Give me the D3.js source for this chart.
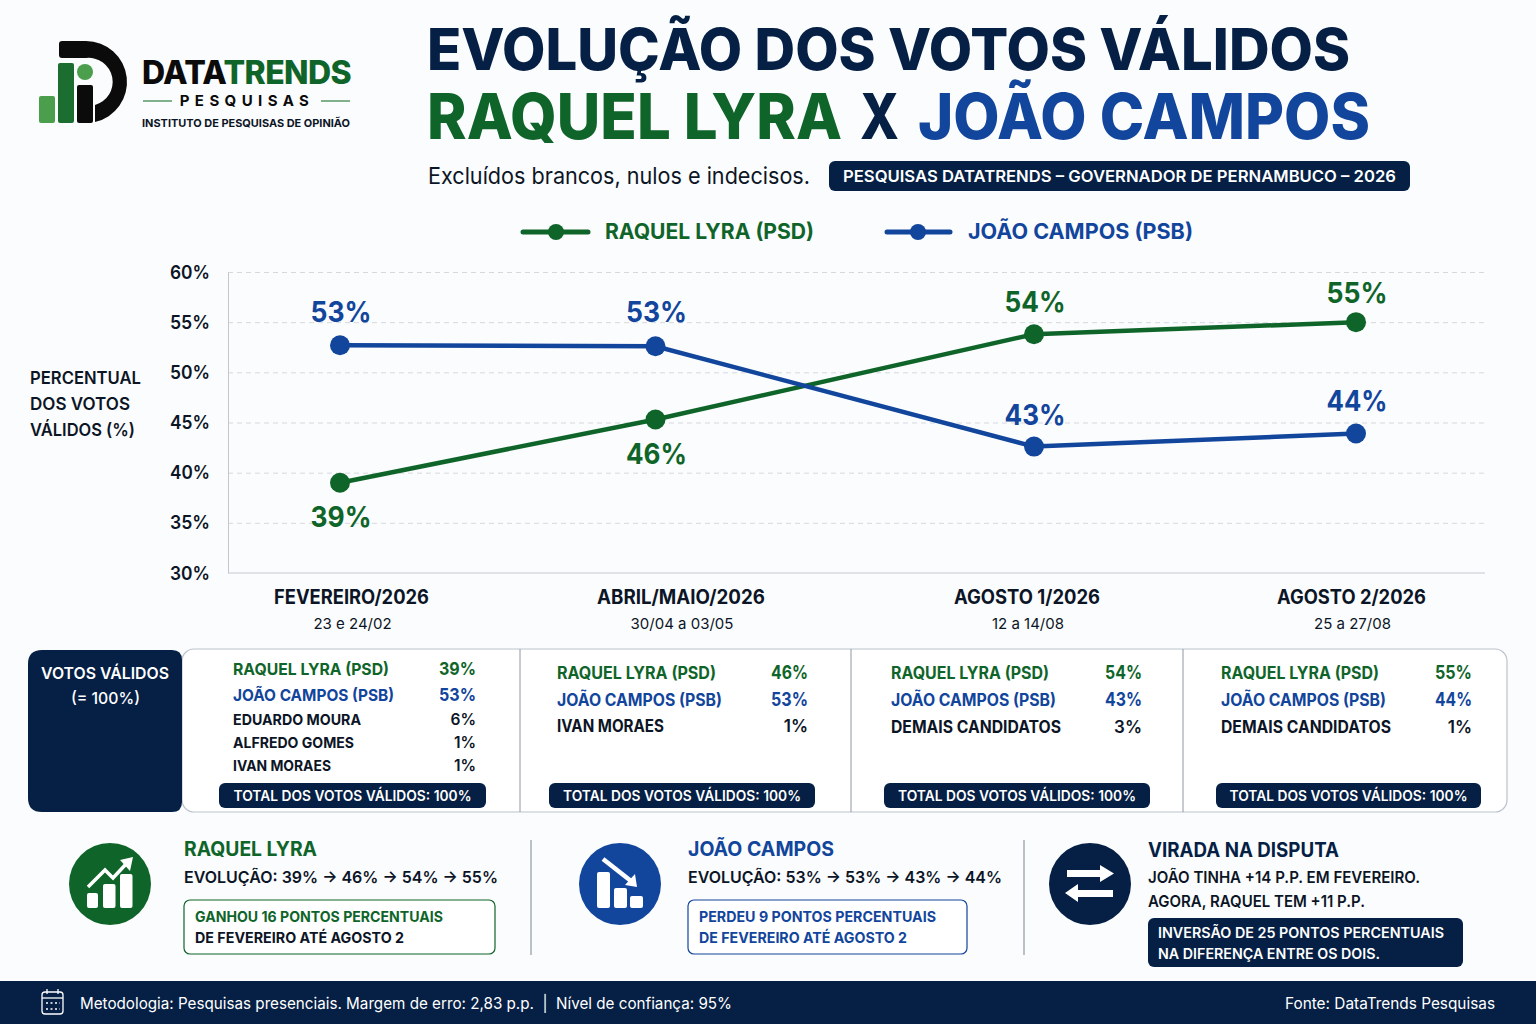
<!DOCTYPE html>
<html>
<head>
<meta charset="utf-8">
<script src="https://cdn.jsdelivr.net/npm/d3@7"></script>
<style>
  html, body { margin: 0; padding: 0; background: #fbfcfd; }
  svg { display: block; }
  text { font-family: Inter, "Noto Sans", sans-serif; white-space: pre; }
</style>
</head>
<body>
<svg width="1536" height="1024"></svg>
<script>
// dados
const periods = ['FEVEREIRO/2026', 'ABRIL/MAIO/2026', 'AGOSTO 1/2026', 'AGOSTO 2/2026'];
const periodDates = ['23 e 24/02', '30/04 a 03/05', '12 a 14/08', '25 a 27/08'];
const raquelValues = [39, 45.3, 53.8, 55];
const joaoValues = [52.7, 52.6, 42.6, 43.9];
const raquelLabels = ['39%', '46%', '54%', '55%'];
const joaoLabels = ['53%', '53%', '43%', '44%'];
const yTicks = [30, 35, 40, 45, 50, 55, 60];
const raquelName = 'RAQUEL LYRA (PSD)';
const joaoName = 'JOÃO CAMPOS (PSB)';
const table1 = [[raquelName, '39%'], [joaoName, '53%'], ['EDUARDO MOURA', '6%'], ['ALFREDO GOMES', '1%'], ['IVAN MORAES', '1%']];
const table2 = [[raquelName, '46%'], [joaoName, '53%'], ['IVAN MORAES', '1%']];
const table3 = [[raquelName, '54%'], [joaoName, '43%'], ['DEMAIS CANDIDATOS', '3%']];
const table4 = [[raquelName, '55%'], [joaoName, '44%'], ['DEMAIS CANDIDATOS', '1%']];

const navy = '#051f45', green = '#0f6529', blue = '#12459c', ink = '#0c1526';
const svg = d3.select('svg');

// w = largura medida no original, o Inter daqui sai mais largo
function txt(parent, s, x, y, size, weight, fill, anchor, w) {
  const t = parent.append('text').attr('x', x).attr('y', y).attr('font-size', size)
    .attr('font-weight', weight).attr('fill', fill).attr('text-anchor', anchor || 'start').text(s);
  if (w) t.attr('textLength', w).attr('lengthAdjust', 'spacingAndGlyphs');
  return t;
}

// logo
const logo = svg.append('g');
logo.append('path').attr('fill', '#0b0b0b')
  .attr('d', 'M62,41 H86 A41,41 0 0 1 95,122 V105 A24,24 0 0 0 86,58 H62 Q59,58 59,55 V44 Q59,41 62,41 Z');
logo.append('rect').attr('x', 39).attr('y', 96).attr('width', 16).attr('height', 27).attr('rx', 2).attr('fill', '#4a9e4c');
logo.append('rect').attr('x', 58).attr('y', 63).attr('width', 16).attr('height', 60).attr('rx', 2).attr('fill', '#1c6e30');
logo.append('rect').attr('x', 77).attr('y', 85).attr('width', 16).attr('height', 38).attr('rx', 2).attr('fill', '#0b0b0b');
logo.append('circle').attr('cx', 85).attr('cy', 72).attr('r', 8).attr('fill', '#4a9e4c');
const brand = txt(logo, 'DATA', 142, 84, 32, 800, '#0b0b0b').attr('letter-spacing', -0.6);
brand.append('tspan').attr('fill', green).text('TRENDS');
txt(logo, 'PESQUISAS', 247, 106, 15, 700, '#0b0b0b', 'middle').attr('letter-spacing', 5.4);
logo.append('line').attr('x1', 143).attr('x2', 172).attr('y1', 101).attr('y2', 101).attr('stroke', '#2f7d40').attr('stroke-width', 1.2);
logo.append('line').attr('x1', 321).attr('x2', 350).attr('y1', 101).attr('y2', 101).attr('stroke', '#2f7d40').attr('stroke-width', 1.2);
txt(logo, 'INSTITUTO DE PESQUISAS DE OPINIÃO', 142, 127, 11, 700, ink, 'start', 208);

// titulo
txt(svg, 'EVOLUÇÃO DOS VOTOS VÁLIDOS', 427, 70, 58, 800, navy, 'start', 923);
txt(svg, 'RAQUEL LYRA', 427, 139, 63, 800, green, 'start', 415);
txt(svg, 'X', 860, 139, 63, 800, navy, 'start', 39);
txt(svg, 'JOÃO CAMPOS', 918, 139, 63, 800, blue, 'start', 452);
txt(svg, 'Excluídos brancos, nulos e indecisos.', 428, 184, 23, 400, ink, 'start', 382);
svg.append('rect').attr('x', 829).attr('y', 161).attr('width', 581).attr('height', 30).attr('rx', 6).attr('fill', navy);
txt(svg, 'PESQUISAS DATATRENDS – GOVERNADOR DE PERNAMBUCO – 2026', 1119.5, 182, 16.5, 600, '#fff', 'middle', 553);

// legenda
function legendItem(x1, x2, cx, tx, color, label, w) {
  svg.append('line').attr('x1', x1).attr('x2', x2).attr('y1', 232).attr('y2', 232)
    .attr('stroke', color).attr('stroke-width', 5).attr('stroke-linecap', 'round');
  svg.append('circle').attr('cx', cx).attr('cy', 232).attr('r', 8).attr('fill', color);
  txt(svg, label, tx, 239, 21.5, 700, color, 'start', w);
}
legendItem(523, 588, 556, 605, green, raquelName, 209);
legendItem(887, 950, 918, 968, blue, joaoName, 225);

// grafico
const x = d3.scaleOrdinal().domain(periods).range([340, 655.5, 1034, 1356]);
const y = d3.scaleLinear().domain([30, 60]).range([573, 272]);

const grid = svg.append('g').attr('transform', 'translate(228,0)')
  .call(d3.axisRight(y).tickValues(yTicks.slice(1)).tickSize(1257).tickFormat(''));
grid.select('.domain').remove();
grid.selectAll('line').attr('stroke', '#d5d9de').attr('stroke-dasharray', '5 4');

const yAxis = svg.append('g').attr('transform', 'translate(228,0)')
  .call(d3.axisLeft(y).tickValues(yTicks).tickSize(0).tickPadding(18).tickFormat(d => d + '%'));
yAxis.select('.domain').attr('stroke', '#c3c8ce');
yAxis.selectAll('text').attr('font-size', 19).attr('font-weight', 600).attr('fill', ink)
  .attr('font-family', 'Inter, sans-serif').attr('textLength', 40).attr('lengthAdjust', 'spacingAndGlyphs');
svg.append('line').attr('x1', 228).attr('x2', 1485).attr('y1', y(30)).attr('y2', y(30)).attr('stroke', '#c3c8ce');

txt(svg, 'PERCENTUAL', 30, 384, 17.5, 600, ink, 'start', 111);
txt(svg, 'DOS VOTOS', 30, 410, 17.5, 600, ink, 'start', 100);
txt(svg, 'VÁLIDOS (%)', 30, 436, 17.5, 600, ink, 'start', 105);

const line = d3.line().x(d => x(d.period)).y(d => y(d.value));
function series(values, labels, color, offsets) {
  const pts = periods.map((p, i) => ({ period: p, value: values[i], label: labels[i], off: offsets[i] }));
  svg.append('path').datum(pts).attr('d', line).attr('fill', 'none').attr('stroke', color).attr('stroke-width', 4.5);
  svg.selectAll(null).data(pts).enter().append('circle')
    .attr('cx', d => x(d.period)).attr('cy', d => y(d.value)).attr('r', 10).attr('fill', color);
  svg.selectAll(null).data(pts).enter().append('text')
    .attr('x', d => x(d.period) + 1).attr('y', d => y(d.value) + d.off)
    .attr('text-anchor', 'middle').attr('font-size', 29).attr('font-weight', 700).attr('fill', color)
    .attr('textLength', 61).attr('lengthAdjust', 'spacingAndGlyphs')
    .text(d => d.label);
}
series(raquelValues, raquelLabels, green, [44, 45, -22, -19]);
series(joaoValues, joaoLabels, blue, [-23, -24, -22, -23]);

const xLabel = d3.scaleOrdinal().domain(periods).range([351.5, 681, 1027, 1351.5]);
const xLabelW = [155, 168, 146, 149];
periods.forEach((p, i) => {
  txt(svg, p, xLabel(p), 604, 19.5, 700, ink, 'middle', xLabelW[i]);
  txt(svg, periodDates[i], xLabel(p) + 1, 629, 15, 400, ink, 'middle');
});

// tabela
svg.append('rect').attr('x', 182).attr('y', 649).attr('width', 1325).attr('height', 163).attr('rx', 12)
  .attr('fill', '#fff').attr('stroke', '#bcc3cc').attr('stroke-width', 1.2);
[520, 851, 1183].forEach(d => svg.append('line').attr('x1', d).attr('x2', d).attr('y1', 649).attr('y2', 812).attr('stroke', '#8f98a3'));
svg.append('path').attr('fill', navy)
  .attr('d', 'M42,650 H172 Q182,650 182,660 V802 Q182,812 172,812 H42 Q28,812 28,798 V664 Q28,650 42,650 Z');
txt(svg, 'VOTOS VÁLIDOS', 105, 679, 16.5, 600, '#fff', 'middle', 128);
txt(svg, '(= 100%)', 105.5, 704, 16.5, 500, '#fff', 'middle', 69);

function colorOf(name) { return name === raquelName ? green : name === joaoName ? blue : ink; }
function panel(rows, left, right, ys, pillX, pillW, small, nameW) {
  rows.forEach((r, i) => {
    const main = i < 2;
    const nameSize = small && !main ? 15 : small ? 16.5 : 17;
    const valSize = main ? (small ? 18 : 19) : (small ? 15.5 : 17);
    txt(svg, r[0], left, ys[i], nameSize, 700, colorOf(r[0]), 'start', nameW[i]);
    txt(svg, r[1], right, ys[i], valSize, main ? 700 : 600, colorOf(r[0]), 'end', main ? 37 : null);
  });
  svg.append('rect').attr('x', pillX).attr('y', 783).attr('width', pillW).attr('height', 25).attr('rx', 6).attr('fill', navy);
  txt(svg, 'TOTAL DOS VOTOS VÁLIDOS: 100%', pillX + pillW / 2, 801, 14.5, 600, '#fff', 'middle', 238);
}
panel(table1, 233, 476, [675, 701, 725, 748, 771], 219, 267, true, [156, 161, 128, 121, 98]);
panel(table2, 557, 808, [679, 706, 732], 549, 266, false, [159, 165, 107]);
panel(table3, 891, 1142, [679, 706, 733], 884, 266, false, [158, 165, 170]);
panel(table4, 1221, 1472, [679, 706, 733], 1216, 265, false, [158, 165, 170]);

// blocos de baixo
svg.append('circle').attr('cx', 110).attr('cy', 884).attr('r', 41).attr('fill', green);
const upIcon = svg.append('g').attr('fill', '#fff');
upIcon.append('rect').attr('x', 87).attr('y', 893).attr('width', 11).attr('height', 15).attr('rx', 2);
upIcon.append('rect').attr('x', 103).attr('y', 884).attr('width', 12.5).attr('height', 24).attr('rx', 2);
upIcon.append('rect').attr('x', 120).attr('y', 874).attr('width', 12.5).attr('height', 34).attr('rx', 2);
svg.append('path').attr('d', 'M88,887 L105,870 L113,878 L127,863').attr('fill', 'none').attr('stroke', '#fff').attr('stroke-width', 3.5);
svg.append('path').attr('d', 'M133,857 L120,860 L130,871 Z').attr('fill', '#fff');

svg.append('circle').attr('cx', 620).attr('cy', 884).attr('r', 41).attr('fill', blue);
const downIcon = svg.append('g').attr('fill', '#fff');
downIcon.append('rect').attr('x', 597).attr('y', 872).attr('width', 13).attr('height', 36).attr('rx', 2);
downIcon.append('rect').attr('x', 614).attr('y', 888).attr('width', 13).attr('height', 20).attr('rx', 2);
downIcon.append('rect').attr('x', 630).attr('y', 896).attr('width', 13).attr('height', 12).attr('rx', 2);
svg.append('path').attr('d', 'M603,859 L631,881').attr('stroke', '#fff').attr('stroke-width', 4.5);
svg.append('path').attr('d', 'M637,887 L625,885 L635,874 Z').attr('fill', '#fff');

svg.append('circle').attr('cx', 1090).attr('cy', 884).attr('r', 41).attr('fill', navy);
svg.append('path').attr('fill', '#fff').attr('d', 'M1067,870 H1100 V865 L1114,873.5 L1100,882 V877 H1067 Z');
svg.append('path').attr('fill', '#fff').attr('d', 'M1113,890 H1078 V884 L1065,893 L1078,902 V897 H1113 Z');

[531, 1024].forEach(d => svg.append('line').attr('x1', d).attr('x2', d).attr('y1', 840).attr('y2', 955).attr('stroke', '#7d8792'));

txt(svg, 'RAQUEL LYRA', 184, 856, 20, 700, green, 'start', 133);
txt(svg, 'EVOLUÇÃO: 39% → 46% → 54% → 55%', 184, 883, 16.5, 600, ink, 'start', 314);
svg.append('rect').attr('x', 184).attr('y', 900).attr('width', 311).attr('height', 54).attr('rx', 6).attr('fill', '#fff').attr('stroke', green).attr('stroke-width', 1.2);
txt(svg, 'GANHOU 16 PONTOS PERCENTUAIS', 195, 922, 14.5, 700, green, 'start', 248);
txt(svg, 'DE FEVEREIRO ATÉ AGOSTO 2', 195, 943, 14.5, 700, ink, 'start', 209);

txt(svg, 'JOÃO CAMPOS', 688, 856, 20, 700, blue, 'start', 146);
txt(svg, 'EVOLUÇÃO: 53% → 53% → 43% → 44%', 688, 883, 16.5, 600, ink, 'start', 314);
svg.append('rect').attr('x', 688).attr('y', 900).attr('width', 279).attr('height', 54).attr('rx', 6).attr('fill', '#fff').attr('stroke', blue).attr('stroke-width', 1.2);
txt(svg, 'PERDEU 9 PONTOS PERCENTUAIS', 699, 922, 14.5, 700, blue, 'start', 237);
txt(svg, 'DE FEVEREIRO ATÉ AGOSTO 2', 699, 943, 14.5, 700, blue, 'start', 208);

txt(svg, 'VIRADA NA DISPUTA', 1148, 857, 20, 700, navy, 'start', 191);
txt(svg, 'JOÃO TINHA +14 P.P. EM FEVEREIRO.', 1148, 883, 16.5, 600, ink, 'start', 272);
txt(svg, 'AGORA, RAQUEL TEM +11 P.P.', 1148, 907, 16.5, 600, ink, 'start', 217);
svg.append('rect').attr('x', 1148).attr('y', 918).attr('width', 315).attr('height', 49).attr('rx', 6).attr('fill', navy);
txt(svg, 'INVERSÃO DE 25 PONTOS PERCENTUAIS', 1158, 938, 14.5, 600, '#fff', 'start', 286);
txt(svg, 'NA DIFERENÇA ENTRE OS DOIS.', 1158, 959, 14.5, 600, '#fff', 'start', 222);

// rodape
svg.append('rect').attr('x', 0).attr('y', 981).attr('width', 1536).attr('height', 43).attr('fill', navy);
const cal = svg.append('g').attr('fill', 'none').attr('stroke', '#fff').attr('stroke-width', 1.3);
cal.append('rect').attr('x', 42).attr('y', 992).attr('width', 21).attr('height', 22).attr('rx', 3);
cal.append('line').attr('x1', 42).attr('x2', 63).attr('y1', 998).attr('y2', 998);
cal.append('line').attr('x1', 47).attr('x2', 47).attr('y1', 989).attr('y2', 994);
cal.append('line').attr('x1', 58).attr('x2', 58).attr('y1', 989).attr('y2', 994);
cal.append('path').attr('stroke-dasharray', '2 2.5').attr('d', 'M46,1003 H60 M46,1009 H60');
txt(svg, 'Metodologia: Pesquisas presenciais. Margem de erro: 2,83 p.p.  |  Nível de confiança: 95%', 80, 1009, 16, 400, '#fff', 'start', 652);
txt(svg, 'Fonte: DataTrends Pesquisas', 1495, 1009, 16, 400, '#fff', 'end', 210);
</script>
</body>
</html>
